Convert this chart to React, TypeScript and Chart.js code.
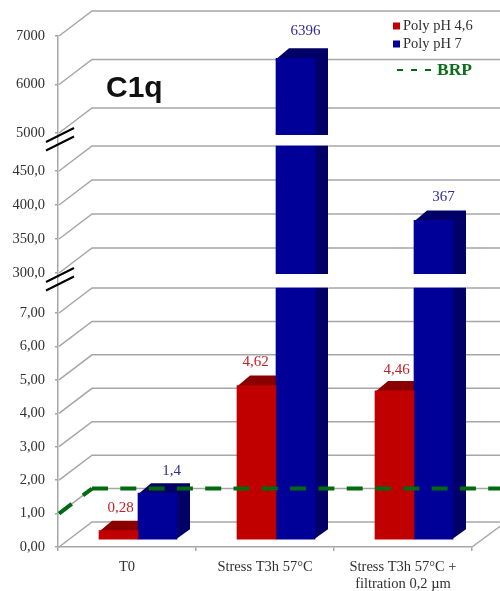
import React, { useEffect, useRef } from "react";
import { Chart, LinearScale, registerables } from "chart.js";

// Categories and series
const categories = ["T0", "Stress T3h 57°C", ["Stress T3h 57°C +", "filtration 0,2 µm"]];
const polyPh46 = [0.28, 4.62, 4.46];
const polyPh7 = [1.4, 6396, 367];
const brp = [1, 1, 1];

// Tick values on the three panels of the broken axis
const lowTicks = [0, 1, 2, 3, 4, 5, 6, 7];
const midTicks = [300, 350, 400, 450];
const highTicks = [5000, 6000, 7000];

const SERIF = '"Liberation Serif", serif';
const GRID = "#A6A6A6";
const TEXT = "#303030";
const RED = "#C00000";
const RED_TOP = "#8A0000";
const BLUE = "#000099";
const BLUE_SIDE = "#000066";
const GREEN = "#006A10";

// 3D projection: wall depth, bar depth and how far the bars stand in front of the back wall
const WALL = { dx: 34, dy: -25 };
const BAR_DEPTH = { dx: 13, dy: -10 };
const BAR_SHIFT = { dx: 11, dy: -7 };

// Hand placement of the value labels, per series and category: [dx, dy] from the bar's head
const LABEL_OFFSETS = [
  [[13, -30], [10, -31], [13, -28]],
  [[25, -29], [21, -34], [21, -30]],
];

// Piecewise value axis: each panel owns a slice of the axis height
class BrokenScale extends LinearScale {
  static id = "broken";
  static defaults = LinearScale.defaults;

  buildTicks() {
    const panels = (this.options as any).panels;
    const out: { value: number }[] = [];
    panels.forEach((p: any) => p.ticks.forEach((value: number) => out.push({ value })));
    this.min = panels[0].from;
    this.max = panels[panels.length - 1].to;
    return out;
  }

  getPixelForValue(value: number) {
    const panels = (this.options as any).panels;
    const pts: [number, number][] = [];
    panels.forEach((p: any) => {
      pts.push([p.from, p.start]);
      pts.push([p.to, p.end]);
    });
    let dec = pts[pts.length - 1][1];
    for (let i = 0; i < pts.length - 1; i++) {
      if (value <= pts[i + 1][0]) {
        const [v0, f0] = pts[i];
        const [v1, f1] = pts[i + 1];
        dec = f0 + ((value - v0) / (v1 - v0)) * (f1 - f0);
        break;
      }
    }
    return this.bottom - dec * (this.bottom - this.top);
  }
}

Chart.register(...registerables, BrokenScale);

const formatTick = (v: number) => {
  if (v >= 5000) return String(v);
  if (v >= 300) return v.toFixed(1).replace(".", ",");
  return v.toFixed(2).replace(".", ",");
};

const formatValue = (v: number) => String(v).replace(".", ",");

// Walls, floor, and the side and top faces of the bars sit behind the front faces
const backdrop = {
  id: "backdrop",
  beforeDatasetsDraw(chart: any) {
    const { ctx, chartArea, scales } = chart;
    const y = scales.y;
    ctx.save();
    ctx.strokeStyle = GRID;
    ctx.lineWidth = 1.5;
    y.ticks.forEach((t: any) => {
      const py = y.getPixelForValue(t.value);
      ctx.beginPath();
      ctx.moveTo(chartArea.left + 1, py);
      ctx.lineTo(chartArea.left + WALL.dx, py + WALL.dy);
      ctx.lineTo(chart.width, py + WALL.dy);
      ctx.stroke();
    });
    ctx.beginPath();
    ctx.moveTo(chartArea.right, chartArea.bottom);
    ctx.lineTo(chartArea.right + WALL.dx, chartArea.bottom + WALL.dy);
    ctx.stroke();

    [0, 1].forEach((ds) => {
      ctx.fillStyle = ds === 0 ? RED_TOP : BLUE_SIDE;
      chart.getDatasetMeta(ds).data.forEach((bar: any) => {
        const { x, y: head, base, width } = bar.getProps(["x", "y", "base", "width"]);
        const l = x - width / 2 + BAR_SHIFT.dx;
        const r = x + width / 2 + BAR_SHIFT.dx;
        const t = head + BAR_SHIFT.dy;
        const b = base + BAR_SHIFT.dy;
        // Top and side faces as one outline, tucked under the front face
        ctx.beginPath();
        ctx.moveTo(l, t + 1);
        ctx.lineTo(l + BAR_DEPTH.dx, t + BAR_DEPTH.dy);
        ctx.lineTo(r + BAR_DEPTH.dx, t + BAR_DEPTH.dy);
        ctx.lineTo(r + BAR_DEPTH.dx, b + BAR_DEPTH.dy);
        ctx.lineTo(r - 1, b);
        ctx.lineTo(r - 1, t + 1);
        ctx.closePath();
        ctx.fill();
      });
    });
    ctx.restore();
    // Front faces are drawn by the bar elements, shifted onto the mid-depth plane
    ctx.save();
    ctx.translate(BAR_SHIFT.dx, BAR_SHIFT.dy);
  },
  afterDatasetsDraw(chart: any) {
    const { ctx, chartArea, scales } = chart;
    ctx.restore();
    const y = scales.y;

    // White bands cutting the tall bars at the axis breaks
    const bands = [
      [y.getPixelForValue(5000) + 2, y.getPixelForValue(450) + WALL.dy - 0.5],
      [y.getPixelForValue(300) + 1, y.getPixelForValue(7) + WALL.dy - 0.5],
    ];
    ctx.save();
    ctx.fillStyle = "#FFFFFF";
    chart.getDatasetMeta(1).data.forEach((bar: any) => {
      const { x, y: head, width } = bar.getProps(["x", "y", "width"]);
      const l = x - width / 2 + BAR_SHIFT.dx - 1;
      const w = width + BAR_DEPTH.dx + 2;
      bands.forEach(([a, b]) => {
        if (head + BAR_SHIFT.dy < a) ctx.fillRect(l, a, w, b - a);
      });
    });
    ctx.restore();

    // Reference level: rises along the side wall, then follows the back wall
    const brpY = chart.getDatasetMeta(2).data[0].y;
    const cornerX = chartArea.left + WALL.dx;
    const cornerY = brpY + WALL.dy;
    ctx.save();
    ctx.strokeStyle = GREEN;
    ctx.lineWidth = 4;
    ctx.setLineDash([16, 14]);
    ctx.beginPath();
    ctx.moveTo(chartArea.left + 1, brpY);
    ctx.lineTo(cornerX, cornerY);
    ctx.stroke();
    ctx.setLineDash([16, 12.3]);
    ctx.beginPath();
    ctx.moveTo(cornerX, cornerY);
    ctx.lineTo(chart.width, cornerY);
    ctx.stroke();
    ctx.restore();

    // Value labels
    ctx.save();
    ctx.font = `15px ${SERIF}`;
    ctx.textAlign = "center";
    ctx.textBaseline = "middle";
    [0, 1].forEach((ds) => {
      ctx.fillStyle = ds === 0 ? "#C5202A" : "#2E2E9A";
      const values = chart.data.datasets[ds].data;
      chart.getDatasetMeta(ds).data.forEach((bar: any, i: number) => {
        const { x, y: head } = bar.getProps(["x", "y"]);
        const [dx, dy] = LABEL_OFFSETS[ds][i];
        ctx.fillText(formatValue(values[i]), x + dx, head + dy);
      });
    });
    ctx.restore();

    // Slanted double strokes marking the two axis breaks
    ctx.save();
    ctx.strokeStyle = "#000000";
    ctx.lineWidth = 2;
    [y.getPixelForValue(5000), y.getPixelForValue(300)].forEach((py: number) => {
      [0, 8.5].forEach((off) => {
        ctx.beginPath();
        ctx.moveTo(chartArea.left - 12, py + 9 + off);
        ctx.lineTo(chartArea.left + 16, py - 5 + off);
        ctx.stroke();
      });
    });
    ctx.restore();

    // Panel title
    ctx.save();
    ctx.fillStyle = "#111111";
    ctx.font = 'bold 30px "Liberation Sans", Arial, sans-serif';
    ctx.textBaseline = "alphabetic";
    ctx.fillText("C1q", 106, 97);
    ctx.restore();

    // Legend
    ctx.save();
    ctx.textBaseline = "middle";
    ctx.font = `14.5px ${SERIF}`;
    chart.data.datasets.slice(0, 2).forEach((d: any, i: number) => {
      const ly = 26 + i * 18;
      ctx.fillStyle = d.backgroundColor;
      ctx.fillRect(393, ly - 3.5, 7, 7);
      ctx.fillStyle = TEXT;
      ctx.fillText(d.label, 403, ly);
    });
    ctx.strokeStyle = GREEN;
    ctx.lineWidth = 2;
    ctx.setLineDash([6, 8]);
    ctx.beginPath();
    ctx.moveTo(397, 70);
    ctx.lineTo(432, 70);
    ctx.stroke();
    ctx.fillStyle = "#0B6E1B";
    ctx.font = `bold 17.5px ${SERIF}`;
    ctx.fillText(chart.data.datasets[2].label, 437, 70);
    ctx.restore();
  },
};

export default function App() {
  const ref = useRef<HTMLCanvasElement>(null);

  useEffect(() => {
    const chart = new Chart(ref.current as HTMLCanvasElement, {
      type: "bar",
      data: {
        labels: categories as any,
        datasets: [
          { label: "Poly pH 4,6", data: polyPh46, backgroundColor: RED, barThickness: 39, clip: false } as any,
          { label: "Poly pH 7", data: polyPh7, backgroundColor: BLUE, barThickness: 39, clip: false } as any,
          { type: "line", label: "BRP", data: brp, showLine: false, pointRadius: 0, borderColor: GREEN } as any,
        ],
      },
      options: {
        responsive: false,
        animation: false,
        layout: { autoPadding: false, padding: { top: 36, right: 28, left: 0, bottom: 0 } },
        plugins: { legend: { display: false }, title: { display: false }, tooltip: { enabled: false } },
        scales: {
          x: {
            grid: { drawOnChartArea: false, color: GRID, tickLength: 4, lineWidth: 1.5 },
            border: { color: GRID, width: 1.5 },
            ticks: {
              color: TEXT,
              font: { family: SERIF, size: 14.5 },
              padding: 7,
              maxRotation: 0,
              autoSkip: false,
            },
            afterFit: (s: any) => {
              s.height = 44;
            },
          },
          y: {
            type: "broken",
            min: 0,
            max: 7000,
            panels: [
              { from: 0, to: 7, start: 0, end: 0.4579, ticks: lowTicks },
              { from: 300, to: 450, start: 0.5362, end: 0.7358, ticks: midTicks },
              { from: 5000, to: 7000, start: 0.8102, end: 1, ticks: highTicks },
            ],
            grid: { drawOnChartArea: false, color: GRID, tickLength: 3, lineWidth: 1.5 },
            border: { color: GRID, width: 1.5 },
            ticks: {
              color: TEXT,
              font: { family: SERIF, size: 14.5 },
              padding: 10,
              autoSkip: false,
              callback: (v: any) => formatTick(Number(v)),
            },
            afterFit: (s: any) => {
              s.width = 58;
            },
          } as any,
        },
      },
      plugins: [backdrop as any],
    });
    return () => chart.destroy();
  }, []);

  return (
    <div style={{ position: "fixed", left: 0, top: 0, width: 500, height: 591, background: "#FFFFFF" }}>
      <canvas ref={ref} width={500} height={591} style={{ display: "block" }} />
    </div>
  );
}
